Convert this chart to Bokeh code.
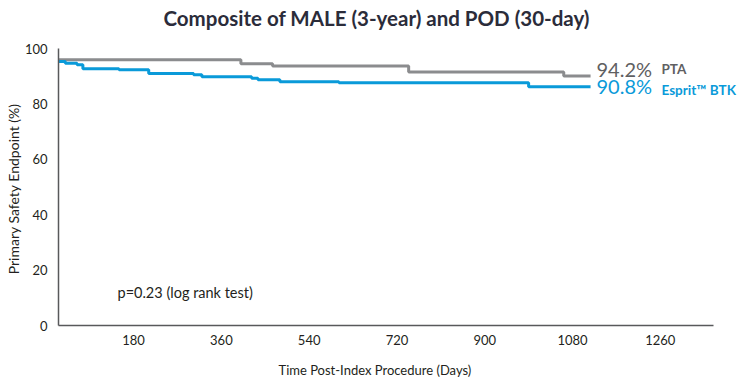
from bokeh.plotting import figure
from bokeh.models import Range1d, FixedTicker, Label, Title
from bokeh.embed import file_html
from bokeh.resources import INLINE

# ---- data ----
title_text = "Composite of MALE (3-year) and POD (30-day)"
x_title = "Time Post-Index Procedure (Days)"
y_title = "Primary Safety  Endpoint (%)"
x_ticks = [180, 360, 540, 720, 900, 1080, 1260]
y_ticks = [0, 20, 40, 60, 80, 100]

pta_days = [0, 400, 465, 744, 1062, 1117]
pta_surv = [95.9, 94.5, 93.7, 91.5, 90.1, 90.1]

esprit_days = [0, 40, 64, 76, 150, 211, 303, 320, 422, 435, 480, 601, 990, 1117]
esprit_surv = [95.3, 94.7, 94.1, 92.7, 92.3, 91.0, 90.5, 89.8, 89.3, 88.7, 88.0, 87.6, 86.2, 86.2]

pta_final = "94.2%"
esprit_final = "90.8%"
pta_name = "PTA"
esprit_name = "Esprit\u2122 BTK"
p_text = "p=0.23 (log rank test)"

GREY = "#8b8c8e"
GREY_TXT = "#5f6062"
BLUE = "#0a9ad9"
DARK = "#231f20"
FONT = "Lato"

W, H = 751, 379
BL, BR, BT, BB = 58, 0, 48, 54
X_START, X_END, X_AXIS_END = 26, 1447, 1369

p = figure(width=W, height=H, output_backend="svg", toolbar_location=None,
           title=None,
           x_range=Range1d(X_START, X_END), y_range=Range1d(0, 100),
           min_border_left=BL, min_border_right=BR,
           min_border_top=BT, min_border_bottom=BB)
p.outline_line_color = None
p.xgrid.visible = False
p.ygrid.visible = False

p.step(pta_days, pta_surv, mode="after", line_color=GREY, line_width=3)
p.step(esprit_days, esprit_surv, mode="after", line_color=BLUE, line_width=3)

for ax in (p.xaxis[0], p.yaxis[0]):
    ax.axis_line_color = "#58595b"
    ax.axis_line_width = 1.5
    ax.major_tick_line_color = None
    ax.minor_tick_line_color = None
    ax.major_label_text_font = FONT
    ax.major_label_text_font_size = "13px"
    ax.major_label_text_color = DARK
    ax.axis_label_text_font = FONT
    ax.axis_label_text_font_size = "14px"
    ax.axis_label_text_font_style = "normal"
    ax.axis_label_text_color = DARK

p.xaxis.ticker = FixedTicker(ticks=x_ticks)
p.yaxis.ticker = FixedTicker(ticks=y_ticks)
p.xaxis.bounds = (X_START, X_AXIS_END)
p.xaxis.major_label_standoff = 3
p.yaxis.major_label_standoff = 5
p.yaxis.axis_label = y_title
p.yaxis.axis_label_standoff = 0
# blank x axis label only reserves a little room between tick labels and the x title
p.xaxis.axis_label = " "
p.xaxis.axis_label_standoff = 0
p.xaxis.axis_label_text_font_size = "6px"

# spacer (closest to the frame) then the chart title above
p.add_layout(Title(text=" ", standoff=0, text_font=FONT, text_font_size="14px"), "above")
main_title = Title(text=title_text, align="left", offset=105, standoff=0,
                   text_font=FONT, text_font_size="20.5px", text_font_style="bold",
                   text_color="#2b2c3a")
p.add_layout(main_title, "above")
x_title_obj = Title(text=x_title, align="left", offset=220, standoff=4,
                    text_font=FONT, text_font_size="13px", text_font_style="normal",
                    text_color=DARK)
p.add_layout(x_title_obj, "below")

FH = H - BT - BB

def page_label(text, px, py, **kw):
    # px, py: page pixel coordinates -> frame-relative screen units
    sx = px - BL
    sy = (BT + FH) - py
    lab = Label(x=sx, y=sy, x_units="screen", y_units="screen", text=text,
                text_font=FONT, text_baseline="middle", **kw)
    p.add_layout(lab)
    return lab

page_label(p_text, 117, 292, text_align="left", text_font_size="14.5px",
           text_color=DARK)
page_label(pta_final, 596, 68.5, text_align="left", text_font_size="20px",
           text_color=GREY_TXT)
page_label(pta_name, 661, 68.5, text_align="left", text_font_size="13.5px",
           text_font_style="bold", text_color=GREY_TXT)
page_label(esprit_final, 596, 85.5, text_align="left", text_font_size="20px",
           text_color=BLUE)
page_label(esprit_name, 661, 89, text_align="left", text_font_size="13.5px",
           text_font_style="bold", text_color=BLUE)

open("out.html", "w").write(file_html(p, INLINE))
